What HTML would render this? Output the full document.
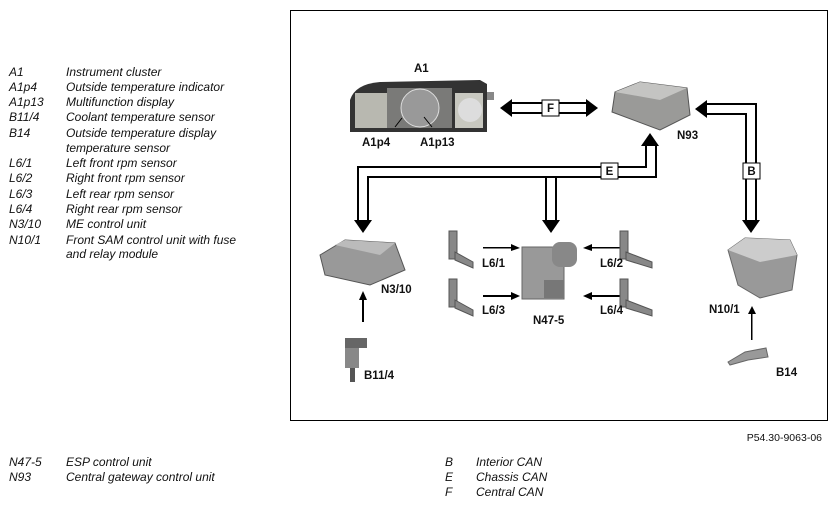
<!DOCTYPE html>
<html><head><style>
body{margin:0;background:#fff;}
svg{display:block;}
.t{font-family:"Liberation Sans",sans-serif;font-style:italic;font-size:12px;fill:#111;}
.b{font-family:"Liberation Sans",sans-serif;font-weight:bold;font-size:11.5px;fill:#111;}
.s{font-family:"Liberation Sans",sans-serif;font-size:10.5px;fill:#111;}
</style></head><body>
<svg width="836" height="506" viewBox="0 0 836 506">
<g class="t">
<text x="9" y="76">A1</text><text x="66" y="76">Instrument cluster</text>
<text x="9" y="91">A1p4</text><text x="66" y="91">Outside temperature indicator</text>
<text x="9" y="106">A1p13</text><text x="66" y="106">Multifunction display</text>
<text x="9" y="121">B11/4</text><text x="66" y="121">Coolant temperature sensor</text>
<text x="9" y="137">B14</text><text x="66" y="137">Outside temperature display</text>
<text x="66" y="152">temperature sensor</text>
<text x="9" y="167">L6/1</text><text x="66" y="167">Left front rpm sensor</text>
<text x="9" y="182">L6/2</text><text x="66" y="182">Right front rpm sensor</text>
<text x="9" y="198">L6/3</text><text x="66" y="198">Left rear rpm sensor</text>
<text x="9" y="213">L6/4</text><text x="66" y="213">Right rear rpm sensor</text>
<text x="9" y="228">N3/10</text><text x="66" y="228">ME control unit</text>
<text x="9" y="244">N10/1</text><text x="66" y="244">Front SAM control unit with fuse</text>
<text x="66" y="258">and relay module</text>
<text x="9" y="466">N47-5</text><text x="66" y="466">ESP control unit</text>
<text x="9" y="481">N93</text><text x="66" y="481">Central gateway control unit</text>
<text x="445" y="466">B</text><text x="476" y="466">Interior CAN</text>
<text x="445" y="481">E</text><text x="476" y="481">Chassis CAN</text>
<text x="445" y="496">F</text><text x="476" y="496">Central CAN</text>
</g>
<text class="s" x="822" y="441" text-anchor="end">P54.30-9063-06</text>
<rect x="290.5" y="10.5" width="537" height="410" fill="none" stroke="#000" stroke-width="1"/>

<!-- cluster -->
<path d="M350 132 L350 100 Q355 84 380 82 L480 80 L487 84 L487 132 Z" fill="#333"/>
<rect x="355" y="93" width="40" height="35" fill="#b8b8b0"/>
<rect x="387" y="88" width="65" height="40" fill="#7a7a78"/>
<circle cx="420" cy="108" r="19" fill="#999" stroke="#ddd"/>
<rect x="455" y="93" width="28" height="35" fill="#c8c8c0"/>
<circle cx="470" cy="110" r="12" fill="#ddd"/>
<rect x="487" y="92" width="7" height="8" fill="#888"/>
<line x1="395" y1="127" x2="402" y2="118" stroke="#000"/>
<line x1="432" y1="127" x2="424" y2="117" stroke="#000"/>
<text class="b" x="414" y="72">A1</text>
<text class="b" x="362" y="146">A1p4</text>
<text class="b" x="420" y="146">A1p13</text>

<!-- F -->
<g fill="#000">
<rect x="510" y="102" width="78" height="2"/><rect x="510" y="112" width="78" height="2"/>
<polygon points="500,108 512,99 512,117"/><polygon points="598,108 586,99 586,117"/>
</g>
<rect x="542" y="100" width="17" height="16" fill="#fff" stroke="#000"/>
<text class="b" x="550.5" y="112" text-anchor="middle">F</text>

<!-- N93 -->
<polygon points="615,92 640,82 687,88 690,115 660,130 612,112" fill="#9a9a98" stroke="#555"/>
<polygon points="615,92 640,82 687,88 660,100" fill="#c4c4c2"/>
<text class="b" x="677" y="139">N93</text>

<!-- B -->
<g fill="#000">
<rect x="705" y="103" width="52" height="2"/><rect x="705" y="113" width="42" height="2"/>
<rect x="755" y="103" width="2" height="118"/><rect x="745" y="113" width="2" height="108"/>
<polygon points="695,109 707,100 707,118"/><polygon points="751,233 742,220 760,220"/>
</g>
<rect x="743" y="163" width="17" height="16" fill="#fff" stroke="#000"/>
<text class="b" x="751.5" y="175" text-anchor="middle">B</text>

<!-- E -->
<g fill="#000">
<polygon points="650,133 641,146 659,146"/>
<rect x="655" y="146" width="2" height="32"/><rect x="645" y="146" width="2" height="22"/>
<rect x="357" y="166" width="290" height="2"/><rect x="367" y="176" width="290" height="2"/>
<rect x="357" y="166" width="2" height="55"/><rect x="367" y="176" width="2" height="45"/>
<rect x="545" y="176" width="2" height="45"/><rect x="555" y="176" width="2" height="45"/>
<polygon points="363,233 354,220 372,220"/><polygon points="551,233 542,220 560,220"/>
</g>
<rect x="601" y="163" width="17" height="16" fill="#fff" stroke="#000"/>
<text class="b" x="609.5" y="175" text-anchor="middle">E</text>

<!-- N3/10 -->
<polygon points="320,255 345,240 395,243 405,270 370,285 325,275" fill="#999" stroke="#555"/>
<polygon points="335,245 345,240 395,243 380,255" fill="#bbb"/>
<text class="b" x="381" y="293">N3/10</text>
<rect x="362" y="297" width="2" height="25" fill="#000"/><polygon points="363,291 359,300 367,300" fill="#000"/>
<rect x="345" y="338" width="22" height="10" fill="#666"/><rect x="345" y="348" width="14" height="20" fill="#888"/><rect x="350" y="368" width="5" height="14" fill="#555"/>
<text class="b" x="364" y="379">B11/4</text>

<!-- N47-5 -->
<rect x="522" y="247" width="42" height="52" fill="#999" stroke="#666"/>
<rect x="552" y="242" width="25" height="25" rx="8" fill="#888"/>
<rect x="544" y="280" width="20" height="18" fill="#777"/>
<text class="b" x="533" y="324">N47-5</text>
<g fill="#000">
<rect x="483" y="247" width="30" height="1.5"/><polygon points="520,248 511,244 511,251"/>
<rect x="483" y="295" width="30" height="2"/><polygon points="520,296 511,292 511,300"/>
<rect x="592" y="247" width="32" height="1.5"/><polygon points="583,248 592,244 592,251"/>
<rect x="592" y="295" width="32" height="2"/><polygon points="583,296 592,292 592,300"/>
</g>
<g fill="#888" stroke="#555">
<rect x="449" y="231" width="8" height="28"/><polygon points="455,252 473,262 473,268 455,260"/>
<rect x="449" y="279" width="8" height="28"/><polygon points="455,300 473,310 473,316 455,308"/>
<rect x="620" y="231" width="8" height="28"/><polygon points="626,252 652,262 652,268 626,260"/>
<rect x="620" y="279" width="8" height="28"/><polygon points="626,300 652,310 652,316 626,308"/>
</g>
<text class="b" x="482" y="267">L6/1</text><text class="b" x="482" y="314">L6/3</text>
<text class="b" x="600" y="267">L6/2</text><text class="b" x="600" y="314">L6/4</text>

<!-- N10/1 -->
<polygon points="728,250 745,238 790,240 797,255 792,290 760,298 738,285" fill="#999" stroke="#666"/>
<polygon points="728,250 745,238 790,240 797,255 760,262" fill="#ccc"/>
<text class="b" x="709" y="313">N10/1</text>
<rect x="751" y="312" width="1.5" height="28" fill="#000"/><polygon points="752,306 748,314 756,314" fill="#000"/>
<polygon points="728,362 745,352 766,348 768,357 748,360 730,365" fill="#999" stroke="#666"/>
<text class="b" x="776" y="376">B14</text>
</svg>
</body></html>
